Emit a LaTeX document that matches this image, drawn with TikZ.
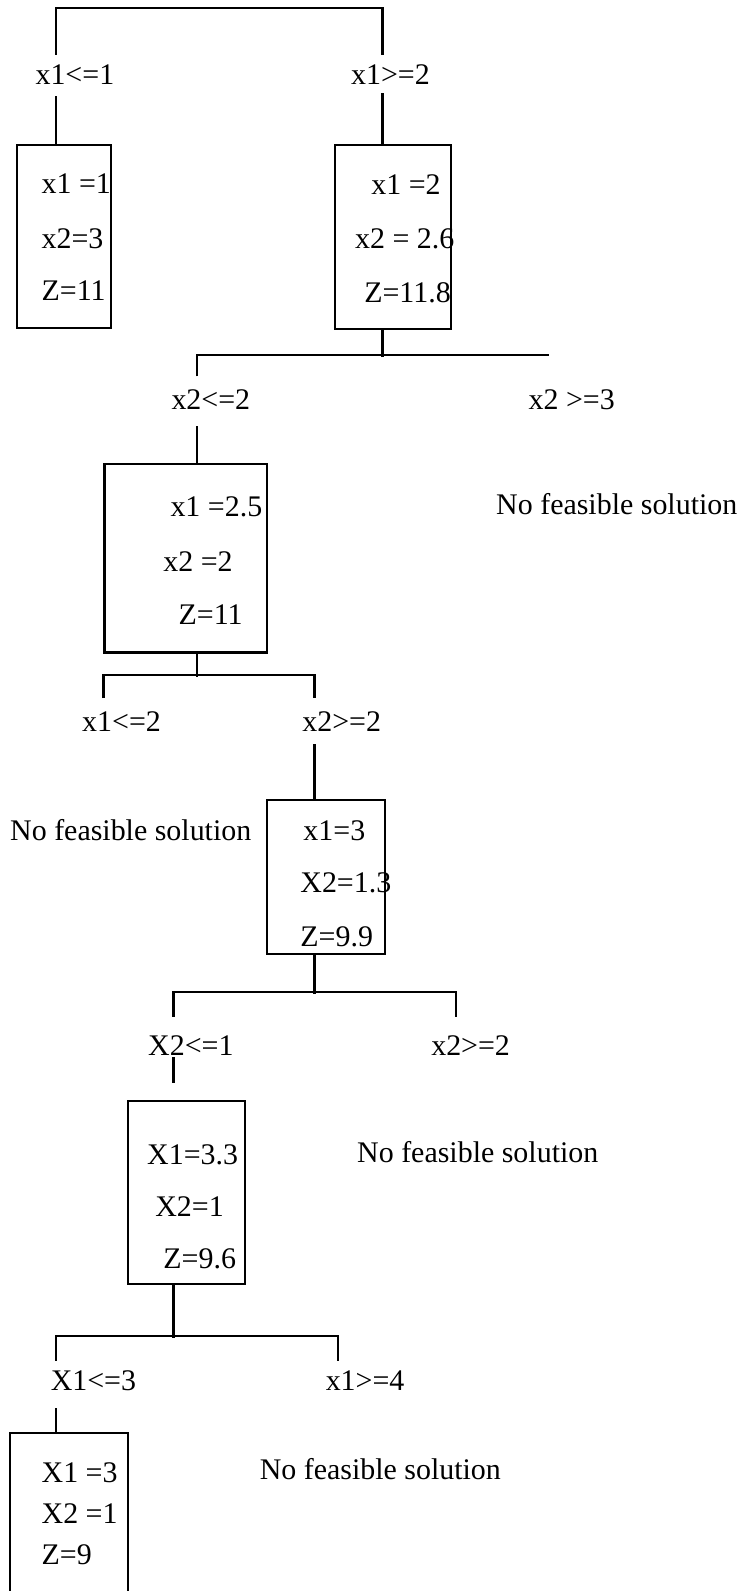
\documentclass[tikz,border=0pt]{standalone}
\usepackage{fontspec}
\setmainfont{Liberation Serif}

\begin{document}
\begin{tikzpicture}[x=1pt, y=-1pt, line width=2.1pt, font=\fontsize{29.5}{35}\selectfont, box/.style={draw,anchor=north west,inner sep=0pt}, val/.style={anchor=west,inner sep=0pt}]
\useasboundingbox (0,0) rectangle (730,1568);
% solution boxes
\node[box,minimum width=92pt,minimum height=180pt] (b1) at (16,142) {};
\node[box,minimum width=114pt,minimum height=181pt] (b2) at (329,142) {};
\node[box,minimum width=160pt,minimum height=186pt] (b3) at (102,456) {};
\node[box,minimum width=116pt,minimum height=152pt] (b4) at (262,787) {};
\node[box,minimum width=115pt,minimum height=180pt] (b5) at (125,1084) {};
\node[box,minimum width=116pt,minimum height=162pt] (b6) at (9,1411) {};
\node[val] (b1x) at (40,181) {x1 =1};
\node[val] (b1y) at (40,235) {x2=3};
\node[val] (b1z) at (40,286) {Z=11};
\node[val] (b2x) at (365,182) {x1 =2};
\node[val] (b2y) at (349,235) {x2 = 2.6};
\node[val] (b2z) at (358,289) {Z=11.8};
\node[val] (b3x) at (167,499) {x1 =2.5};
\node[val] (b3y) at (160,553) {x2 =2};
\node[val] (b3z) at (175,606) {Z=11};
\node[val] (b4x) at (298,819) {x1=3};
\node[val] (b4y) at (295,870) {X2=1.3};
\node[val] (b4z) at (295,923) {Z=9.9};
\node[val] (b5x) at (144,1138) {X1=3.3};
\node[val] (b5y) at (152,1189) {X2=1};
\node[val] (b5z) at (160,1241) {Z=9.6};
\node[val] (b6x) at (40,1451) {X1 =3};
\node[val] (b6y) at (40,1492) {X2 =1};
\node[val] (b6z) at (40,1532) {Z=9};
% branch labels
\node[val] (k1) at (34,74) {x1<=1};
\node[val] (k2) at (345,74) {x1>=2};
\node[val] (k3) at (168,394) {x2<=2};
\node[val] (k4) at (520,394) {x2 >=3};
\node[val] (k5) at (80,711) {x1<=2};
\node[val] (k6) at (297,711) {x2>=2};
\node[val] (k7) at (145,1030) {X2<=1};
\node[val] (k8) at (424,1030) {x2>=2};
\node[val] (k9) at (49,1361) {X1<=3};
\node[val] (k10) at (320,1361) {x1>=4};
\node[val] (n1) at (488,497) {No feasible solution};
\node[val] (n2) at (9,818) {No feasible solution};
\node[val] (n3) at (351,1135) {No feasible solution};
\node[val] (n4) at (255,1448) {No feasible solution};
% branch lines
\coordinate (r1) at (55,54);
\coordinate (r2) at (377,54);
\coordinate (r3) at (194,371);
\coordinate (e3) at (541,350);
\coordinate (r5) at (102,688);
\coordinate (r6) at (310,688);
\coordinate (r7) at (171,1002);
\coordinate (r8) at (449,1002);
\coordinate (r9) at (55,1341);
\coordinate (r10) at (333,1341);
\draw (r1) -- ++(0,-46) -| (r2);
\draw (b1.north -| r1) -- ++(0,-47);
\draw (b2.north -| r2) -- ++(0,-50);
\draw (b2.south -| r2) -- ++(0,27);
\draw (r3) |- (e3);
\draw (b3.north -| r3) -- ++(0,-36);
\draw (b3.south -| r3) -- ++(0,23);
\draw (r5) -- ++(0,-23) -| (r6);
\draw (b4.north -| r6) -- ++(0,-54);
\draw (b4.south -| r6) -- ++(0,39);
\draw (r7) -- ++(0,-24) -| (r8);
\draw (r7) ++(0,40) -- ++(0,25);
\draw (b5.south -| r7) -- ++(0,53);
\draw (r9) -- ++(0,-24) -| (r10);
\draw (b6.north -| r9) -- ++(0,-23);
\end{tikzpicture}
\end{document}
